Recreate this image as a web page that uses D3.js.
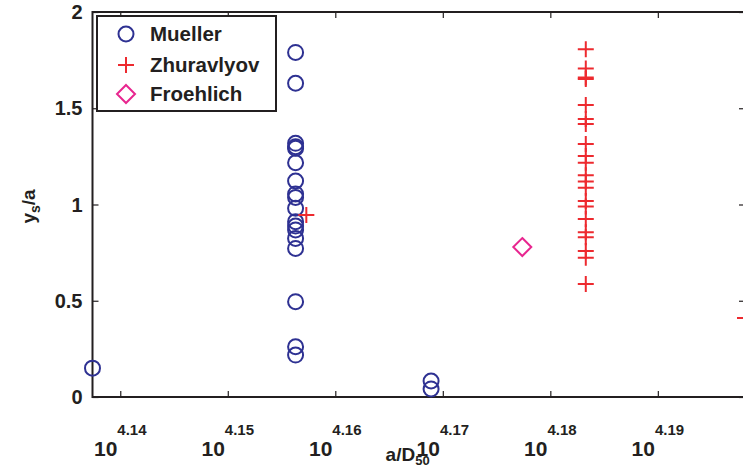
<!DOCTYPE html>
<html>
<head>
<meta charset="utf-8">
<script src="https://cdn.jsdelivr.net/npm/d3@7"></script>
<style>
  html, body { margin: 0; padding: 0; background: #fff; }
  svg { display: block; font-family: "Liberation Sans", Arial, Helvetica, sans-serif; font-weight: bold; }
</style>
</head>
<body>
<div id="chart"></div>
<script>
// a/D50 og ys/a avlest fra figuren
const muellerX = [13722, 14332, 14332, 14332, 14332, 14332, 14332, 14332, 14332, 14332, 14332,
  14332, 14332, 14332, 14332, 14332, 14332, 14332, 14332, 14754, 14754];
const muellerY = [0.15, 1.79, 1.63, 1.318, 1.30, 1.292, 1.217, 1.122, 1.055, 1.037, 0.98,
  0.911, 0.888, 0.868, 0.824, 0.772, 0.495, 0.261, 0.218, 0.083, 0.042];

const zhuravlyovX = [14365, 15251, 15251, 15251, 15251, 15251, 15251, 15251, 15251, 15251, 15251,
  15251, 15251, 15251, 15251, 15251, 15251, 15251, 15251, 15251, 15251, 15251, 15780];
const zhuravlyovY = [0.945, 1.806, 1.707, 1.652, 1.517, 1.444, 1.418, 1.314, 1.252, 1.217, 1.152,
  1.119, 1.087, 1.018, 0.989, 0.925, 0.856, 0.830, 0.758, 0.724, 0.587, 1.66, 0.41];

const froehlichX = [15045];
const froehlichY = [0.779];

const xTickExp = ["4.14", "4.15", "4.16", "4.17", "4.18", "4.19"];
const yTicks = [0, 0.5, 1, 1.5, 2];
const legendNames = ["Mueller", "Zhuravlyov", "Froehlich"];

const COLORS = { ink: "#231f20", mueller: "#2e3192", zhur: "#ed2a2f", froe: "#e8268f" };

const W = 743, H = 470;
const margin = { top: 12, right: -2, bottom: 73, left: 92.5 };
const iw = W - margin.left - margin.right;
const ih = H - margin.top - margin.bottom;

const svg = d3.select("#chart").append("svg")
  .attr("width", W).attr("height", H);
const g = svg.append("g").attr("transform", `translate(${margin.left},${margin.top})`);

const allX = muellerX.concat(zhuravlyovX, froehlichX);
const x = d3.scaleLog().base(10).domain(d3.extent(allX)).range([0, iw]);
const y = d3.scaleLinear().domain([0, 2]).range([ih, 0]);

const xTickVals = xTickExp.map(e => Math.pow(10, +e));

// Akser med innovervendte streker på alle fire sider
const tick = 6;
g.append("g").attr("transform", `translate(0,${ih})`)
  .call(d3.axisBottom(x).tickValues(xTickVals).tickSize(-tick).tickFormat(""));
g.append("g")
  .call(d3.axisTop(x).tickValues(xTickVals).tickSize(-tick).tickFormat(""));
g.append("g")
  .call(d3.axisLeft(y).tickValues(yTicks).tickSize(-tick).tickFormat(""));
g.append("g").attr("transform", `translate(${iw},0)`)
  .call(d3.axisRight(y).tickValues(yTicks).tickSize(-tick).tickFormat(""));
g.selectAll(".domain").remove();
g.selectAll(".tick line").attr("stroke", COLORS.ink).attr("stroke-width", 1.2);

g.append("rect")
  .attr("width", iw).attr("height", ih)
  .attr("fill", "none").attr("stroke", COLORS.ink).attr("stroke-width", 2);

// Etiketter
g.selectAll(".ylab").data(yTicks).join("text")
  .attr("x", -10).attr("y", d => y(d)).attr("dy", "0.36em")
  .attr("text-anchor", "end").attr("font-size", 20).attr("fill", COLORS.ink)
  .text(d => d);

const xl = g.selectAll(".xlab").data(xTickExp).join("text")
  .attr("x", d => x(Math.pow(10, +d))).attr("y", ih + 59)
  .attr("text-anchor", "middle").attr("fill", COLORS.ink);
xl.append("tspan").attr("font-size", 21).text("10");
xl.append("tspan").attr("font-size", 15).attr("dy", -21).text(d => d);

const xt = g.append("text").attr("x", x(14680)).attr("y", ih + 64)
  .attr("text-anchor", "middle").attr("font-size", 19).attr("fill", COLORS.ink);
xt.append("tspan").text("a/D");
xt.append("tspan").attr("font-size", 13).attr("dy", 4).text("50");

const yt = g.append("text")
  .attr("transform", `translate(${-58},${y(1) + 2}) rotate(-90)`)
  .attr("text-anchor", "middle").attr("font-size", 19).attr("fill", COLORS.ink);
yt.append("tspan").text("y");
yt.append("tspan").attr("font-size", 14).attr("dy", 5).text("s");
yt.append("tspan").attr("dy", -5).text("/a");

// Markører
function drawPlus(sel, px, py) {
  sel.append("path")
    .attr("d", `M${px - 8},${py}H${px + 8}M${px},${py - 8}V${py + 8}`)
    .attr("stroke", COLORS.zhur).attr("stroke-width", 2).attr("fill", "none");
}
function drawDiamond(sel, px, py) {
  sel.append("path")
    .attr("d", `M${px},${py - 9}L${px + 9},${py}L${px},${py + 9}L${px - 9},${py}Z`)
    .attr("stroke", COLORS.froe).attr("stroke-width", 2).attr("fill", "none");
}

const marks = g.append("g");
muellerX.forEach((d, i) => {
  marks.append("circle")
    .attr("cx", x(d)).attr("cy", y(muellerY[i])).attr("r", 7.5)
    .attr("fill", "none").attr("stroke", COLORS.mueller).attr("stroke-width", 2);
});
zhuravlyovX.forEach((d, i) => drawPlus(marks, x(d), y(zhuravlyovY[i])));
froehlichX.forEach((d, i) => drawDiamond(marks, x(d), y(froehlichY[i])));

// Tegnforklaring
const lg = svg.append("g");
lg.append("rect")
  .attr("x", 97).attr("y", 16).attr("width", 179).attr("height", 95)
  .attr("fill", "#fff").attr("stroke", COLORS.ink).attr("stroke-width", 2);
const rowsY = [34, 65, 94];
lg.append("circle").attr("cx", 126).attr("cy", rowsY[0]).attr("r", 7.5)
  .attr("fill", "none").attr("stroke", COLORS.mueller).attr("stroke-width", 2);
drawPlus(lg, 126, rowsY[1]);
drawDiamond(lg, 126, rowsY[2]);
legendNames.forEach((n, i) => {
  lg.append("text").attr("x", 150).attr("y", rowsY[i]).attr("dy", "0.36em")
    .attr("font-size", 20.5).attr("fill", COLORS.ink).text(n);
});
</script>
</body>
</html>
